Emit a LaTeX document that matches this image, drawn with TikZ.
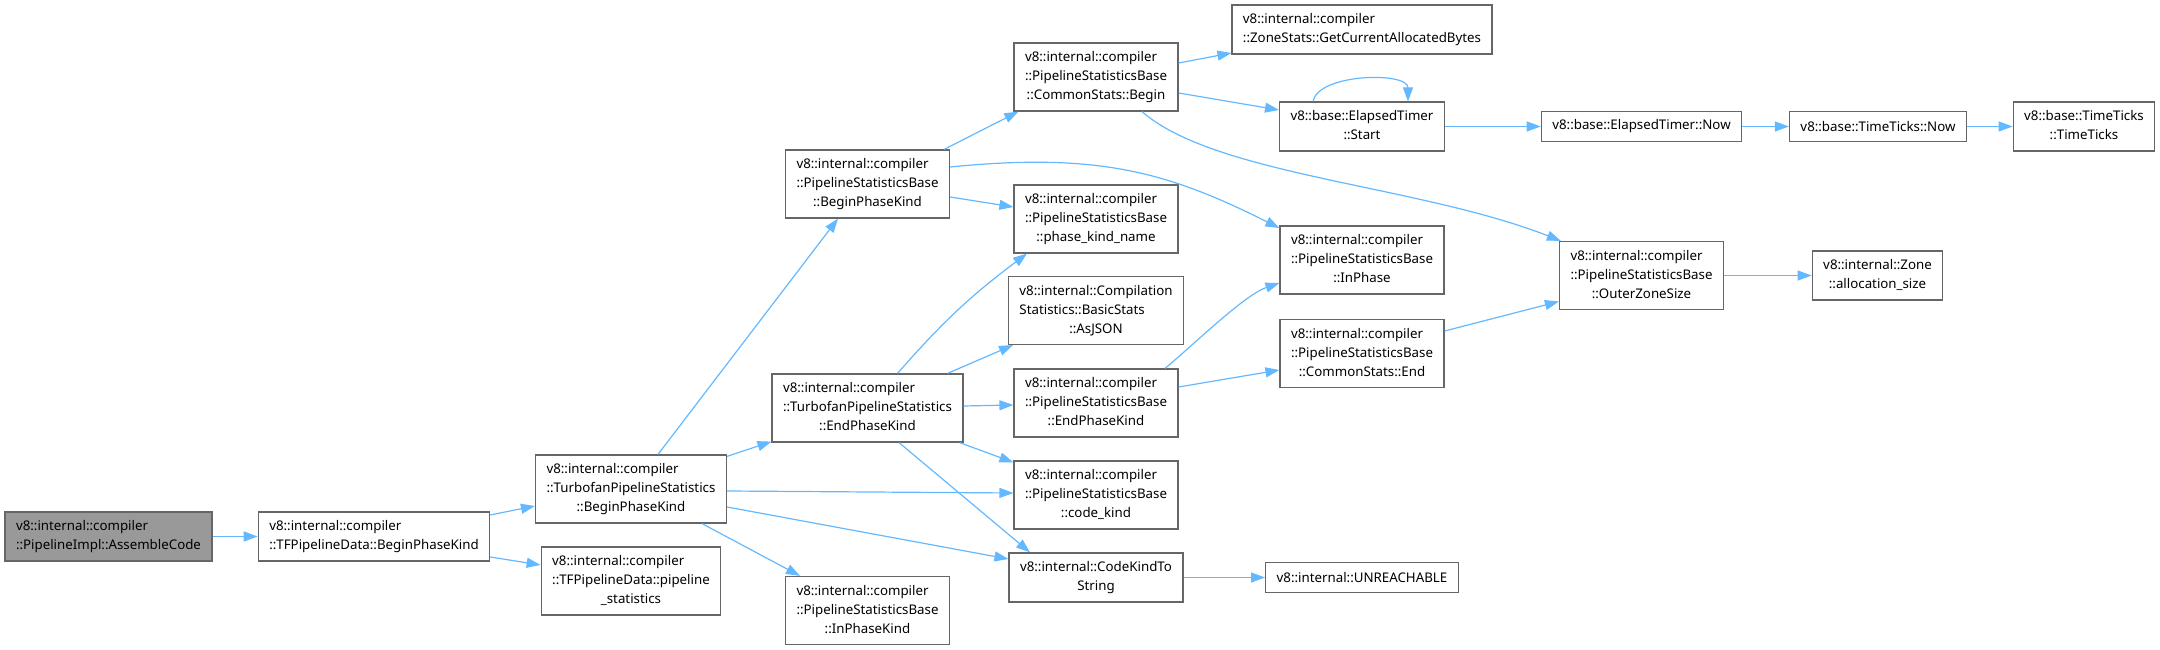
\documentclass[tikz,border=0pt]{standalone}
\usepackage{xcolor}
\usepackage{fontspec}
\setmainfont{Noto Sans}
\usepackage{tikz}
\usetikzlibrary{arrows.meta, positioning}
\definecolor{edgeBlue}{HTML}{63B8FF}
\definecolor{nodeBorder}{HTML}{666666}
\definecolor{rootFill}{HTML}{999999}
% all lines but the last left aligned, the last one centred
\newcommand{\fn}[2]{\begin{tabular}{@{}l@{}}#1\\\multicolumn{1}{@{}c@{}}{#2}\end{tabular}}

\begin{document}
\begin{tikzpicture}[
    on grid,
    box/.style={draw=nodeBorder, line width=1.2pt, fill=white,
                font=\fontsize{13.3pt}{19pt}\selectfont,
                inner xsep=11pt, inner ysep=5.5pt, minimum height=30pt},
    root/.style={box, fill=rootFill},
    arrow/.style={-{Triangle[length=14pt, width=10pt]}, draw=edgeBlue,
                  line width=1.2pt},
]
\useasboundingbox (-108.5pt,-113.5pt) rectangle (2051.5pt,536.5pt);

% Caller chain
\node[root] (asm) at (0,0) {\fn{v8::internal::compiler}{::PipelineImpl::AssembleCode}};
\node[box, right=265.5pt of asm] (tfbegin)
    {\fn{v8::internal::compiler}{::TFPipelineData::BeginPhaseKind}};
\node[box, above right=47.5pt and 257pt of tfbegin] (tpsbegin)
    {\fn{v8::internal::compiler\\::TurbofanPipelineStatistics}{::BeginPhaseKind}};
\node[box, below right=44.5pt and 257pt of tfbegin] (pipestats)
    {\fn{v8::internal::compiler\\::TFPipelineData::pipeline}{\_statistics}};

% Second column
\node[box, above right=305pt and 236.5pt of tpsbegin] (psbbegin)
    {\fn{v8::internal::compiler\\::PipelineStatisticsBase}{::BeginPhaseKind}};
\node[box, above right=81pt and 236.5pt of tpsbegin] (tpsend)
    {\fn{v8::internal::compiler\\::TurbofanPipelineStatistics}{::EndPhaseKind}};
\node[box, below right=121.5pt and 236.5pt of tpsbegin] (inphasekind)
    {\fn{v8::internal::compiler\\::PipelineStatisticsBase}{::InPhaseKind}};

% Third column
\node[box, above right=107pt and 228.5pt of psbbegin] (csbegin)
    {\fn{v8::internal::compiler\\::PipelineStatisticsBase}{::CommonStats::Begin}};
\node[box, below=142pt of csbegin] (phasename)
    {\fn{v8::internal::compiler\\::PipelineStatisticsBase}{::phase\_kind\_name}};
\node[box, below=91.5pt of phasename] (asjson)
    {\fn{v8::internal::Compilation\\Statistics::BasicStats}{::AsJSON}};
\node[box, below=92.5pt of asjson] (psbend)
    {\fn{v8::internal::compiler\\::PipelineStatisticsBase}{::EndPhaseKind}};
\node[box, below=92pt of psbend] (codekind)
    {\fn{v8::internal::compiler\\::PipelineStatisticsBase}{::code\_kind}};
\node[box, below=82.5pt of codekind] (kindstr)
    {\fn{v8::internal::CodeKindTo}{String}};

% Fourth column
\node[box, above right=47.5pt and 266pt of csbegin] (gcab)
    {\fn{v8::internal::compiler}{::ZoneStats::GetCurrentAllocatedBytes}};
\node[box, below=97pt of gcab] (etstart)
    {\fn{v8::base::ElapsedTimer}{::Start}};
\node[box, below=133.5pt of etstart] (inphase)
    {\fn{v8::internal::compiler\\::PipelineStatisticsBase}{::InPhase}};
\node[box, below=93.5pt of inphase] (csend)
    {\fn{v8::internal::compiler\\::PipelineStatisticsBase}{::CommonStats::End}};
\node[box, right=266pt of kindstr] (unreach) {v8::internal::UNREACHABLE};

% Timer and zone
\node[box, right=279.5pt of etstart] (enow) {v8::base::ElapsedTimer::Now};
\node[box, right=236.5pt of enow] (ttnow) {v8::base::TimeTicks::Now};
\node[box, right=206pt of ttnow] (ticks)
    {\fn{v8::base::TimeTicks}{::TimeTicks}};
\node[box, below=149pt of enow] (outer)
    {\fn{v8::internal::compiler\\::PipelineStatisticsBase}{::OuterZoneSize}};
\node[box, right=236pt of outer] (alloc)
    {\fn{v8::internal::Zone}{::allocation\_size}};

\draw[arrow] (asm) -- (tfbegin);
\draw[arrow] ([yshift=21.5pt]tfbegin.east) -- ([yshift=-17pt]tpsbegin.west);
\draw[arrow] ([yshift=-20.5pt]tfbegin.east) -- ([yshift=16pt]pipestats.west);

\draw[arrow] ([xshift=27pt]tpsbegin.north) -- ([xshift=-29.5pt]psbbegin.south);
\draw[arrow] ([yshift=-2pt]tpsbegin.north east) -- ([yshift=1pt]tpsend.south west);
\draw[arrow] ([yshift=-2pt]tpsbegin.east) -- ([yshift=2pt]codekind.west);
\draw[arrow] ([yshift=-18pt]tpsbegin.east) -- ([yshift=18.5pt]kindstr.west);
\draw[arrow] ([xshift=71pt]tpsbegin.south) -- ([xshift=-67.5pt]inphasekind.north);

\draw[arrow] ([xshift=-6pt]psbbegin.north east) -- ([xshift=5pt]csbegin.south west);
\draw[arrow] ([yshift=-13pt]psbbegin.east) -- ([yshift=12pt]phasename.west);
\draw[arrow] ([yshift=17pt]psbbegin.east)
    .. controls +(150pt,15pt) and +(-110pt,55pt) .. ([yshift=32pt]inphase.west);

\draw[arrow] ([xshift=30pt]tpsend.north) to[bend left=6] ([xshift=-69pt]phasename.south);
\draw[arrow] ([xshift=80pt]tpsend.north) -- ([xshift=-83pt]asjson.south);
\draw[arrow] ([yshift=2pt]tpsend.east) -- ([yshift=-2pt]psbend.west);
\draw[arrow] ([xshift=-4pt]tpsend.south east) -- ([yshift=-2pt]codekind.north west);
\draw[arrow] ([xshift=31.5pt]tpsend.south) -- ([xshift=-66pt]kindstr.north);

\draw[arrow] ([yshift=14pt]csbegin.east) -- ([yshift=-23.5pt]gcab.west);
\draw[arrow] ([yshift=-16pt]csbegin.east) -- ([yshift=16.5pt]etstart.west);
\draw[arrow] ([xshift=46pt]csbegin.south)
    .. controls +(73pt,-64pt) and +(-143pt,56pt) .. ([xshift=2pt]outer.north west);

\draw[arrow] ([xshift=-49pt]etstart.north)
    .. controls +(5pt,28pt) and +(0pt,30pt) .. ([xshift=46pt]etstart.north);
\draw[arrow] (etstart) -- (enow);
\draw[arrow] (enow) -- (ttnow);
\draw[arrow] (ttnow) -- (ticks);

\draw[arrow] ([xshift=69pt]psbend.north)
    .. controls +(30pt,25pt) and +(-35pt,-12pt) .. ([yshift=-23pt]inphase.west);
\draw[arrow] ([yshift=16pt]psbend.east) -- ([yshift=-16.5pt]csend.west);
\draw[arrow] ([yshift=22.5pt]csend.east) -- ([yshift=-26pt]outer.west);
\draw[arrow] (outer) -- (alloc);
\draw[arrow] (kindstr) -- (unreach);
\end{tikzpicture}
\end{document}
